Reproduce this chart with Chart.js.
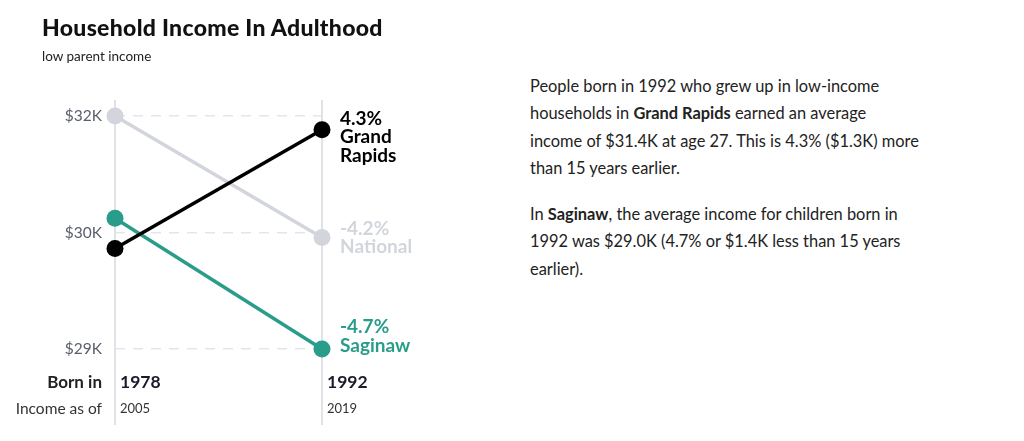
<!DOCTYPE html>
<html>
<head>
<meta charset="utf-8">
<script src="https://cdn.jsdelivr.net/npm/chart.js@4/dist/chart.umd.min.js"></script>
<style>
  html, body { margin:0; padding:0; background:#fff; width:1024px; height:441px; overflow:hidden; font-family: Lato, "Open Sans", sans-serif; }
  #wrap { position:absolute; left:0; top:0; width:520px; height:441px; }
  #title { position:absolute; left:42px; top:13px; font-size:23px; font-weight:900; color:#111; letter-spacing:0.3px; white-space:nowrap; }
  #sub { position:absolute; left:42px; top:48px; font-size:13.5px; color:#222; white-space:nowrap; }
  .rowh { position:absolute; right:922px; white-space:nowrap; color:#222; }
  #born { top:371px; font-size:17px; font-weight:700; }
  #incas { top:399px; font-size:15.5px; color:#333; }
  #text { position:absolute; left:530px; top:72px; width:480px; font-size:16.4px; line-height:27.3px; color:#222; }
  #text p { margin:0 0 19px 0; }
</style>
</head>
<body>
<div id="wrap"><canvas id="c"></canvas></div>
<div id="title">Household Income In Adulthood</div>
<div id="sub">low parent income</div>
<div class="rowh" id="born">Born in</div>
<div class="rowh" id="incas">Income as of</div>
<div id="text">
  <p>People born in 1992 who grew up in low-income<br>households in <b>Grand Rapids</b> earned an average<br>income of $31.4K at age 27. This is 4.3% ($1.3K) more<br>than 15 years earlier.</p>
  <p>In <b>Saginaw</b>, the average income for children born in<br>1992 was $29.0K (4.7% or $1.4K less than 15 years<br>earlier).</p>
</div>
<script>
// ---- data ----
const birthYears = ["1978", "1992"];
const incomeYears = ["2005", "2019"];
const seriesNames = ["Grand Rapids", "National", "Saginaw"];
const grandRapids = [30.1, 31.4];
const national = [31.55, 30.22];
const saginaw = [30.43, 29.0];
const changeLabels = ["4.3%", "-4.2%", "-4.7%"];
const yTickValues = [29.0, 30.275, 31.55];
const yTickLabels = ["$29K", "$30K", "$32K"];

const colors = ["#000000", "#d3d5dd", "#2a9d8a"];

const endLabels = {
  id: 'endLabels',
  afterDatasetsDraw(chart, args, opts) {
    const ctx = chart.ctx;
    ctx.save();
    ctx.font = 'bold 19px Lato, "Open Sans", sans-serif';
    ctx.textAlign = 'left';
    ctx.textBaseline = 'middle';
    chart.data.datasets.forEach((ds, i) => {
      const meta = chart.getDatasetMeta(i);
      const pt = meta.data[meta.data.length - 1];
      const lines = [changeLabels[i]].concat(ds.label.split(' '));
      ctx.fillStyle = colors[i];
      lines.forEach((t, k) => {
        ctx.fillText(t, pt.x + 18, pt.y + opts.offsets[i] + k * 18.5);
      });
    });
    ctx.restore();
  }
};

const vLines = {
  id: 'vLines',
  beforeDatasetsDraw(chart) {
    const ctx = chart.ctx, xs = chart.scales.x, ca = chart.chartArea;
    ctx.save();
    ctx.strokeStyle = '#e1e2e8';
    ctx.lineWidth = 2;
    xs.ticks.forEach((t, i) => {
      const x = xs.getPixelForTick(i);
      ctx.beginPath();
      ctx.moveTo(x, ca.top - 16);
      ctx.lineTo(x, ca.bottom + 76);
      ctx.stroke();
    });
    ctx.restore();
  }
};

const series = [grandRapids, national, saginaw];
new Chart(document.getElementById('c'), {
  type: 'line',
  data: {
    labels: birthYears,
    datasets: series.map((d, i) => ({
      label: seriesNames[i],
      data: d,
      borderColor: colors[i],
      backgroundColor: colors[i],
      pointBackgroundColor: colors[i],
      pointBorderWidth: 0,
      pointRadius: 8.5,
      borderWidth: 3.5,
      clip: false,
      order: i === 0 ? 0 : (i === 2 ? 1 : 2)
    }))
  },
  options: {
    responsive: true,
    maintainAspectRatio: false,
    animation: false,
    events: [],
    layout: { padding: { left: 0, top: 116, right: 198, bottom: 0 } },
    plugins: { legend: { display: false }, tooltip: { enabled: false }, endLabels: { offsets: [-11, -9, -22] } },
    scales: {
      x: {
        type: 'category',
        offset: false,
        grid: { display: false, drawTicks: false },
        border: { display: false },
        afterFit(s) { s.height = 46; },
        ticks: { align: 'start', labelOffset: 5, padding: 23, color: '#1a1a2a', font: { family: 'Lato, "Open Sans", sans-serif', size: 17.5, weight: 'bold' } }
      },
      x2: {
        type: 'category',
        labels: incomeYears,
        position: 'bottom',
        offset: false,
        grid: { display: false, drawTicks: false },
        border: { display: false },
        afterFit(s) { s.height = 46; },
        ticks: { align: 'start', labelOffset: 5, padding: 6, color: '#333', font: { family: 'Lato, "Open Sans", sans-serif', size: 13 } }
      },
      y: {
        min: 29.0,
        max: 31.55,
        afterBuildTicks(s) { s.ticks = yTickValues.map(v => ({ value: v })); },
        afterFit(s) { s.width = 115; },
        grid: { color: '#e4e5ea', lineWidth: 1.5, drawTicks: false },
        border: { display: false, dash: [10, 8] },
        ticks: {
          padding: 13,
          color: '#5a5e6a',
          font: { family: 'Lato, "Open Sans", sans-serif', size: 15.5 },
          callback(v, idx) { return yTickLabels[idx]; }
        }
      }
    }
  },
  plugins: [vLines, endLabels]
});
</script>
</body>
</html>
